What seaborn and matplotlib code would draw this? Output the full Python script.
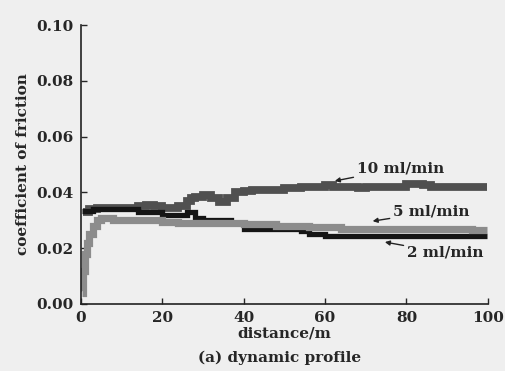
import pandas as pd
import matplotlib.pyplot as plt
import seaborn as sns

# values
dist_10 = [0.5, 2, 4, 6, 8, 10, 12, 14, 16, 18, 20, 22, 24, 26, 27, 28, 30, 32, 34, 35, 36, 38, 40,
           42, 44, 46, 48, 50, 52, 54, 56, 58, 60, 62, 64, 66, 68, 70, 72, 74, 76, 78, 80, 82,
           84, 86, 88, 90, 92, 94, 96, 98, 99.7]
cof_10 = [0.033, 0.034, 0.0345, 0.0345, 0.0345, 0.0345, 0.0345, 0.035, 0.0355, 0.035, 0.0345,
          0.0345, 0.035, 0.037, 0.038, 0.0385, 0.039, 0.038, 0.0365, 0.0365, 0.038, 0.040, 0.0405,
          0.041, 0.041, 0.041, 0.041, 0.0415, 0.0415, 0.042, 0.042, 0.042, 0.0425, 0.042, 0.042,
          0.042, 0.0415, 0.042, 0.042, 0.042, 0.042, 0.042, 0.043, 0.043, 0.0425, 0.042, 0.042,
          0.042, 0.042, 0.042, 0.042, 0.042, 0.042]

dist_2 = [0.3, 3, 5, 8, 12, 14, 18, 20, 24, 26, 28, 30, 33, 36, 37, 40, 44, 48, 52, 54, 56, 60,
          64, 68, 70, 72, 76, 80, 84, 88, 92, 96, 98, 99.7]
cof_2 = [0.0335, 0.034, 0.034, 0.034, 0.034, 0.033, 0.033, 0.032, 0.032, 0.033, 0.031, 0.030,
         0.030, 0.030, 0.029, 0.027, 0.027, 0.027, 0.027, 0.026, 0.025, 0.0245, 0.0245, 0.0245,
         0.0245, 0.0245, 0.0245, 0.0245, 0.0245, 0.0245, 0.0245, 0.0245, 0.0245, 0.0245]

dist_5 = [0.3, 0.6, 1, 1.5, 2, 3, 4, 5, 6, 8, 10, 12, 14, 16, 18, 20, 22, 24, 26, 28, 30, 32,
          34, 36, 38, 40, 44, 48, 52, 56, 60, 64, 68, 72, 76, 80, 84, 88, 92, 96, 98, 99.7]
cof_5 = [0.004, 0.012, 0.018, 0.022, 0.025, 0.028, 0.030, 0.031, 0.031, 0.030, 0.030, 0.030,
         0.030, 0.030, 0.030, 0.0295, 0.0295, 0.029, 0.029, 0.029, 0.029, 0.029, 0.029, 0.029,
         0.029, 0.0285, 0.0285, 0.028, 0.028, 0.0275, 0.0275, 0.027, 0.027, 0.027, 0.027, 0.027,
         0.027, 0.027, 0.027, 0.0265, 0.0265, 0.0265]

sns.set_style('ticks')
plt.rcParams['font.family'] = ['DejaVu Serif']
plt.rcParams['font.weight'] = 'bold'

bg = '#efefef'
fig = plt.figure(figsize=(5.05, 3.71), dpi=100, facecolor=bg)
ax = fig.add_axes([0.160, 0.1806, 0.806, 0.752])
ax.set_facecolor(bg)

line_kw = dict(drawstyle='steps-post', solid_capstyle='butt', solid_joinstyle='miter')
sns.lineplot(x=dist_10, y=cof_10, ax=ax, color='#505050', lw=5.6, **line_kw)
sns.lineplot(x=dist_2, y=cof_2, ax=ax, color='#151515', lw=3.8, **line_kw)
sns.lineplot(x=dist_5, y=cof_5, ax=ax, color='#8c8c8c', lw=5.2, **line_kw)

ax.set_xlim(0, 100)
ax.set_ylim(0, 0.10)
ax.set_xticks([0, 20, 40, 60, 80, 100])
ax.set_yticks([0, 0.02, 0.04, 0.06, 0.08, 0.10])
ax.set_yticklabels(['0.00', '0.02', '0.04', '0.06', '0.08', '0.10'])
ax.tick_params(direction='in', length=4, width=1, labelsize=11, pad=5)
sns.despine(ax=ax)
for s in ['left', 'bottom']:
    ax.spines[s].set_linewidth(1.2)
    ax.spines[s].set_color('#222222')

ax.set_xlabel('distance/m', fontsize=11, fontweight='bold', labelpad=1)
ax.set_ylabel('coefficient of friction', fontsize=11, fontweight='bold', labelpad=5)

arrow = dict(arrowstyle='-|>', color='#222222', lw=1, mutation_scale=7, shrinkA=0, shrinkB=0)
ax.annotate('10 ml/min', xy=(62.4, 0.0441), xytext=(67.8, 0.0487), fontsize=11,
            fontweight='bold', va='center', arrowprops=arrow)
ax.annotate('5 ml/min', xy=(71.7, 0.0297), xytext=(76.7, 0.033), fontsize=11,
            fontweight='bold', va='center', arrowprops=arrow)
ax.annotate('2 ml/min', xy=(74.7, 0.0222), xytext=(80.1, 0.0183), fontsize=11,
            fontweight='bold', va='center', arrowprops=arrow)

fig.text(0.553, 0.035, '(a) dynamic profile', ha='center', va='center', fontsize=11,
         fontweight='bold')

fig.savefig('out.png', dpi=100, facecolor=bg)
